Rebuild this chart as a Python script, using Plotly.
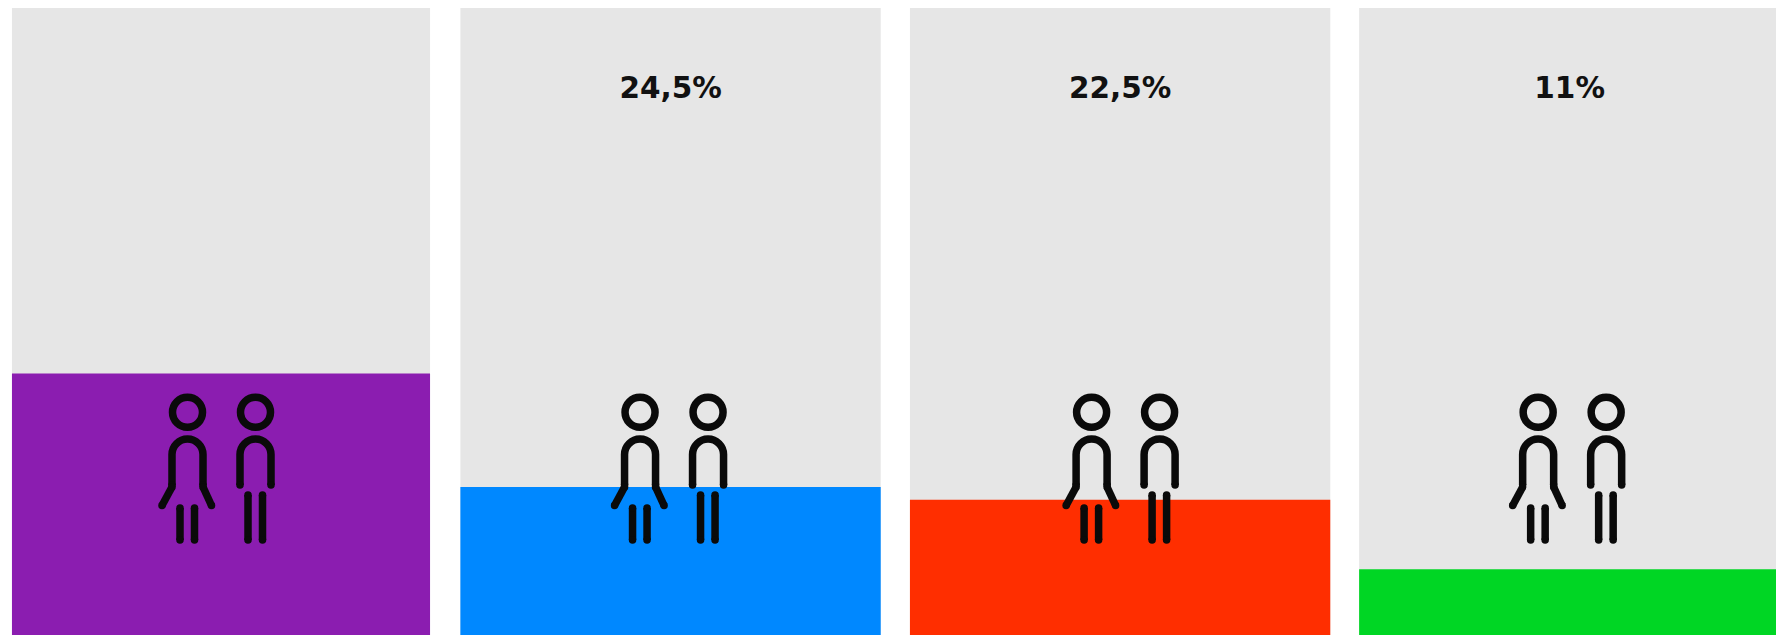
import plotly.graph_objects as go

categories = [0, 1, 2, 3]
values = [43.3, 24.5, 22.4, 10.9]
track = [103.8, 103.8, 103.8, 103.8]
labels = ["", "24,5%", "22,5%", "11%"]
label_level = [90.05, 90.05, 90.05, 90.05]
colors = ["#8B1DB0", "#0088FF", "#FF2E00", "#00D624"]
bar_widths = [0.93, 0.935, 0.935, 0.9366]
icon_shift = [0.5, 3.5, 5.5, 2.5]

fig = go.Figure()
fig.add_bar(x=categories, y=track, width=bar_widths, marker=dict(color="#E6E6E6", line_width=0), hoverinfo="skip")
fig.add_bar(x=categories, y=values, width=bar_widths, marker=dict(color=colors, line_width=0))
fig.add_scatter(x=categories, y=label_level, mode="text", text=labels,
                textposition="middle center",
                textfont=dict(family="DejaVu Sans", size=29.5, color="#111111", weight=700),
                hoverinfo="skip")

SW = 7.5
INK = "#0A0A0A"


def stroke(cat, path):
    fig.add_shape(type="path", xref="x", yref="y", xsizemode="pixel", ysizemode="pixel",
                  xanchor=cat, yanchor=0, path=path, line=dict(color=INK, width=SW),
                  fillcolor="rgba(0,0,0,0)")


def dot(cat, x, y, r=3.75):
    fig.add_shape(type="circle", xref="x", yref="y", xsizemode="pixel", ysizemode="pixel",
                  xanchor=cat, yanchor=0, x0=x - r, x1=x + r, y0=y - r, y1=y + r,
                  line_width=0, fillcolor=INK)


def seg(cat, x0, y0, x1, y1):
    stroke(cat, f"M{x0},{y0} L{x1},{y1}")
    dot(cat, x0, y0)
    dot(cat, x1, y1)


def head_body(cat, cx, bottom):
    # y given upward, in px from the chart's bottom edge
    fig.add_shape(type="circle", xref="x", yref="y", xsizemode="pixel", ysizemode="pixel",
                  xanchor=cat, yanchor=0, x0=cx - 15, x1=cx + 15, y0=222.7 - 15, y1=222.7 + 15,
                  line=dict(color=INK, width=7.5), fillcolor="rgba(0,0,0,0)")
    r0 = 15.5
    k = 0.5523 * r0
    l, r = cx - r0, cx + r0
    base, top = 180.5, 180.5 + r0
    stroke(cat, f"M{l},{bottom} L{l},{base} C{l},{base + k} {cx - k},{top} {cx},{top} "
                f"C{cx + k},{top} {r},{base + k} {r},{base} L{r},{bottom}")
    dot(cat, l, bottom)
    dot(cat, r, bottom)


for i, cat in enumerate(categories):
    s = icon_shift[i]
    # woman
    w = -34 + s
    head_body(cat, w, 150)
    seg(cat, w - 15.5, 148, w - 25.5, 129.5)
    seg(cat, w + 15.5, 148, w + 24, 129.5)
    seg(cat, w - 7.5, 127, w - 7.5, 95)
    seg(cat, w + 7, 127, w + 7, 95)
    # man
    m = 34 + s
    head_body(cat, m, 150)
    seg(cat, m - 7.5, 140, m - 7.5, 95)
    seg(cat, m + 7, 140, m + 7, 95)

fig.update_layout(
    width=1776, height=635, margin=dict(l=0, r=0, t=0, b=0),
    paper_bgcolor="white", plot_bgcolor="white", barmode="overlay", showlegend=False,
    xaxis=dict(range=[-0.4916, 3.459], visible=False, fixedrange=True),
    yaxis=dict(range=[0, 105.13], visible=False, fixedrange=True),
)
fig.write_html("out.html", config={"displayModeBar": False},
               default_width="1776px", default_height="635px",
               post_script="document.body.style.margin='0';document.documentElement.style.overflow='hidden';")
